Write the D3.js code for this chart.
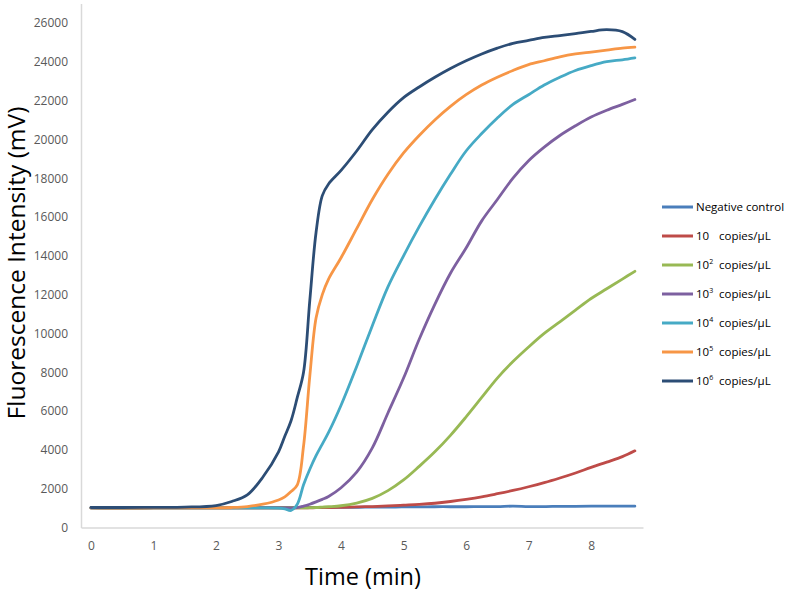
<!DOCTYPE html>
<html>
<head>
<meta charset="utf-8">
<script src="https://cdn.jsdelivr.net/npm/d3@7"></script>
<style>
  body { margin: 0; background: #fff; }
  text { font-family: "Open Sans", sans-serif; }
</style>
</head>
<body>
<div id="chart"></div>
<script>
// time points (min)
var times = [0, 0.5, 1, 1.5, 2, 2.25, 2.5, 2.75, 3, 3.1, 3.2, 3.3, 3.4, 3.5, 3.6, 3.7, 3.8,
  4, 4.25, 4.5, 4.75, 5, 5.25, 5.5, 5.75, 6, 6.25, 6.5, 6.75, 7, 7.25, 7.5, 7.75, 8, 8.25, 8.5, 8.7];

// fluorescence values (mV), one array per series
var negControl = [1020, 1010, 1020, 1020, 1030, 1030, 1030, 1030, 1030, 1030, 1030, 1030, 1030, 1030, 1030, 1030, 1030,
  1040, 1040, 1050, 1050, 1060, 1060, 1070, 1070, 1070, 1080, 1080, 1100, 1080, 1080, 1090, 1090, 1100, 1100, 1100, 1100];
var copies1 = [1010, 1000, 1010, 1010, 1010, 1010, 1010, 1010, 1010, 1010, 1010, 1010, 1010, 1010, 1020, 1020, 1030,
  1040, 1060, 1080, 1110, 1150, 1190, 1250, 1340, 1450, 1580, 1740, 1910, 2100, 2310, 2550, 2810, 3100, 3370, 3650, 3950];
var copies2 = [1010, 1000, 1010, 1010, 1010, 1010, 1010, 1010, 1010, 1010, 1010, 1010, 1010, 1020, 1030, 1050, 1070,
  1120, 1260, 1500, 1900, 2450, 3150, 3900, 4750, 5700, 6700, 7700, 8550, 9300, 10000, 10600, 11200, 11800, 12300, 12800, 13200];
var copies3 = [1010, 1000, 1010, 1010, 1010, 1010, 1010, 1010, 1010, 1010, 1000, 1020, 1100, 1200, 1320, 1450, 1600,
  2050, 2850, 4100, 5900, 7700, 9700, 11500, 13100, 14400, 15800, 16900, 18000, 18900, 19600, 20200, 20700, 21150, 21500, 21800, 22050];
var copies4 = [1010, 1000, 1010, 1010, 1010, 1010, 1010, 1010, 1000, 960, 880, 1200, 2200, 3000, 3700, 4300, 4900,
  6300, 8300, 10400, 12400, 14000, 15500, 16900, 18200, 19400, 20300, 21100, 21800, 22300, 22800, 23200, 23550, 23800, 24000, 24100, 24200];
var copies5 = [1010, 1000, 1010, 1010, 1010, 1030, 1080, 1200, 1420, 1580, 1850, 2200, 4200, 7800, 10800, 12000, 12800,
  13900, 15400, 16900, 18200, 19300, 20200, 21000, 21700, 22300, 22800, 23200, 23550, 23850, 24050, 24250, 24400, 24500, 24600, 24700, 24750];
var copies6 = [1030, 1030, 1040, 1050, 1130, 1340, 1680, 2600, 3900, 4700, 5500, 6700, 8000, 11700, 15200, 17100, 17700,
  18400, 19400, 20500, 21400, 22150, 22700, 23200, 23650, 24050, 24400, 24700, 24950, 25100, 25250, 25350, 25450, 25560, 25650, 25550, 25150];

var seriesNames = ["Negative control", "10", "10", "10", "10", "10", "10"];
var seriesSup = ["", "", "2", "3", "4", "5", "6"];
var seriesColors = ["#4a7ebb", "#be4b48", "#98b954", "#7d60a0", "#46aac5", "#f79646", "#2c4d75"];
var seriesValues = [negControl, copies1, copies2, copies3, copies4, copies5, copies6];

var yTicks = [0, 2000, 4000, 6000, 8000, 10000, 12000, 14000, 16000, 18000, 20000, 22000, 24000, 26000];
var xTicks = [0, 1, 2, 3, 4, 5, 6, 7, 8];

var width = 789, height = 594;

var svg = d3.select("#chart")
  .append("svg")
    .attr("width", width)
    .attr("height", height);

var x = d3.scaleLinear()
  .domain([-0.16, 8.83])
  .range([81, 643]);

var y = d3.scaleLinear()
  .domain([0, 27000])
  .range([527.5, 3.5]);

// Y axis
var yAxis = svg.append("g")
  .attr("transform", "translate(81,0)")
  .call(d3.axisLeft(y).tickValues(yTicks).tickSize(0).tickPadding(13).tickFormat(d3.format("d")));
yAxis.select(".domain").attr("stroke", "#d9d9d9").attr("stroke-width", 1.5);
yAxis.selectAll("text").attr("fill", "#595959").style("font-size", "12px").style("font-family", "Open Sans");

// X axis
var xAxis = svg.append("g")
  .attr("transform", "translate(0,527.5)")
  .call(d3.axisBottom(x).tickValues(xTicks).tickSize(0).tickPadding(14).tickFormat(d3.format("d")));
xAxis.select(".domain").attr("stroke", "#d9d9d9").attr("stroke-width", 1.5);
xAxis.selectAll("text").attr("fill", "#595959").style("font-size", "12px").style("font-family", "Open Sans");

// lines
var line = d3.line()
  .x(function(d) { return x(d[0]); })
  .y(function(d) { return y(d[1]); })
  .curve(d3.curveCatmullRom.alpha(0.5));

seriesValues.forEach(function(vals, i) {
  var pts = times.map(function(t, j) { return [t, vals[j]]; });
  svg.append("path")
    .datum(pts)
    .attr("fill", "none")
    .attr("stroke", seriesColors[i])
    .attr("stroke-width", 2.8)
    .attr("stroke-linejoin", "round")
    .attr("stroke-linecap", "round")
    .attr("d", line);
});

// axis titles
svg.append("text")
  .attr("transform", "translate(25,263) rotate(-90)")
  .style("text-anchor", "middle")
  .style("font-size", "24.5px")
  .attr("fill", "#000")
  .text("Fluorescence Intensity (mV)");

svg.append("text")
  .attr("x", 363)
  .attr("y", 585)
  .style("text-anchor", "middle")
  .style("font-size", "23.5px")
  .attr("fill", "#000")
  .text("Time (min)");

// legend
var legend = svg.append("g");
seriesNames.forEach(function(name, i) {
  var ly = 207 + i * 29;
  legend.append("line")
    .attr("x1", 662).attr("x2", 693)
    .attr("y1", ly).attr("y2", ly)
    .attr("stroke", seriesColors[i])
    .attr("stroke-width", 3);
  var t = legend.append("text")
    .attr("x", 696)
    .attr("y", ly + 4)
    .style("font-size", "11.5px")
    .attr("fill", "#000");
  if (i == 0) {
    t.text(name);
  } else {
    t.append("tspan").text(name);
    t.append("tspan").attr("dy", -5).style("font-size", "7px").text(seriesSup[i]);
    t.append("tspan").attr("x", 719).attr("dy", seriesSup[i] ? 5 : 0).text("copies/μL");
  }
});
</script>
</body>
</html>
